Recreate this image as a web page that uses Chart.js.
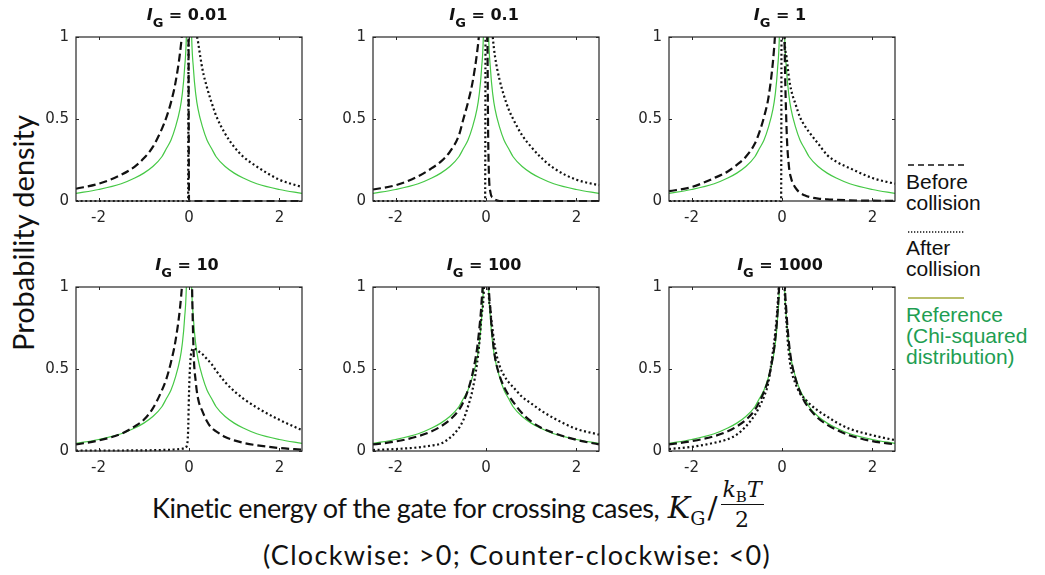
<!DOCTYPE html>
<html>
<head>
<meta charset="utf-8">
<script src="https://cdn.jsdelivr.net/npm/chart.js@4/dist/chart.umd.min.js"></script>
<style>
  html, body { margin:0; padding:0; background:#fff; }
  #wrap { position:relative; width:1045px; height:575px; overflow:hidden; background:#fff; }
  canvas.pc { position:absolute; }
  .ptitle { position:absolute; transform:translateX(-50%); font-family:"DejaVu Sans", sans-serif; font-weight:bold; font-size:16px; color:#111; white-space:nowrap; line-height:20px; }
  .ptitle sub { font-size:13px; vertical-align:-7px; line-height:0; }
  .ylab { position:absolute; left:22px; top:233px; transform:translate(-50%,-50%) rotate(-90deg); font-family:Lato, "Open Sans", sans-serif; font-size:29px; color:#111; white-space:nowrap; }
  .xlab1 { position:absolute; left:152px; top:476px; height:64px; line-height:64px; font-family:Lato, "Open Sans", sans-serif; font-size:27px; letter-spacing:-0.4px; color:#111; white-space:nowrap; }
  .xlab2 { position:absolute; left:517px; top:538px; transform:translateX(-50%); font-family:Lato, "Open Sans", sans-serif; font-size:27px; letter-spacing:1.3px; color:#111; white-space:nowrap; }
  .m { font-family:"DejaVu Serif","Liberation Serif", serif; font-size:30px; letter-spacing:0; margin-left:2px; }
  .m sub { font-size:19px; font-style:normal; vertical-align:-7px; line-height:0; }
  .slash { margin-left:2px; }
  .frac { display:inline-block; vertical-align:middle; text-align:center; font-size:22px; line-height:26px; margin-left:3px; position:relative; top:-5px; }
  .frac .num { display:block; border-bottom:1.4px solid #111; padding:0 2px 1px 2px; }
  .frac .num sub { font-size:15px; vertical-align:-5px; }
  .frac .den { display:block; font-style:normal; padding-top:2px; }
  .leg { position:absolute; left:906px; font-family:"Liberation Sans", Arial, sans-serif; font-size:21px; line-height:21px; color:#111; white-space:nowrap; }
  .leg.green { color:#1e9e52; }
  svg.ls { position:absolute; }
</style>
</head>
<body>
<div id="wrap">
  <div class="ylab">Probability density</div>
  <div class="xlab1">Kinetic energy of the gate for crossing cases, <span class="m"><i>K</i><sub>G</sub><span class="slash">/</span><span class="frac"><span class="num"><i>k</i><sub>B</sub><i>T</i></span><span class="den">2</span></span></span></div>
  <div class="xlab2">(Clockwise: &gt;0; Counter-clockwise: &lt;0)</div>

  <svg class="ls" style="left:906px;top:160px" width="60" height="10"><line x1="2" y1="5" x2="58" y2="5" stroke="#111" stroke-width="1.3" stroke-dasharray="6,4"/></svg>
  <div class="leg" style="top:171px">Before<br>collision</div>
  <svg class="ls" style="left:906px;top:227px" width="60" height="10"><line x1="2" y1="5" x2="58" y2="5" stroke="#111" stroke-width="1.3" stroke-dasharray="1.3,1.7"/></svg>
  <div class="leg" style="top:237px">After<br>collision</div>
  <svg class="ls" style="left:906px;top:293px" width="60" height="10"><line x1="2" y1="5" x2="58" y2="5" stroke="#b9bf6a" stroke-width="2"/></svg>
  <div class="leg green" style="top:304px">Reference<br>(Chi-squared<br>distribution)</div>
</div>
<script>
// ---- data ----
const xGrid = [-2.5,-2,-1.5,-1.2,-1,-0.8,-0.6,-0.5,-0.4,-0.3,-0.2,-0.15,-0.1,-0.05,-0.02,0,0.02,0.05,0.1,0.15,0.2,0.3,0.4,0.5,0.6,0.8,1,1.2,1.5,2,2.5];
const xTickValues = [-2, 0, 2];
const yTickValues = [0, 0.5, 1];
const panelLabels = ['0.01', '0.1', '1', '10', '100', '1000'];

const referenceY = [0.046,0.07,0.105,0.14,0.17,0.21,0.27,0.32,0.37,0.45,0.56,0.65,0.8,1.1,1.8,3,1.8,1.1,0.8,0.65,0.56,0.45,0.37,0.32,0.27,0.21,0.17,0.14,0.105,0.07,0.046];

const before001 = [0.075,0.105,0.16,0.21,0.26,0.33,0.44,0.51,0.6,0.72,0.9,1.03,1.2,1.6,2.2,0,0,0,0,0,0,0,0,0,0,0,0,0,0,0,0];
const after001  = [0,0,0,0,0,0,0,0,0,0,0,0,0,0,0,2.5,2.2,1.7,1.3,1.06,0.97,0.8,0.69,0.6,0.52,0.41,0.33,0.27,0.21,0.13,0.085];

const before01 = [0.07,0.096,0.15,0.2,0.24,0.3,0.4,0.5,0.6,0.72,0.9,1.03,1.25,1.7,2.2,2.5,1.6,0.35,0.05,0.02,0.008,0,0,0,0,0,0,0,0,0,0];
const after01  = [0,0,0,0,0,0,0,0,0,0,0,0,0,0,0,2.5,2.2,1.7,1.2,1.0,0.88,0.74,0.64,0.56,0.5,0.4,0.33,0.27,0.2,0.13,0.096];

const before1 = [0.06,0.085,0.14,0.18,0.22,0.27,0.35,0.42,0.51,0.63,0.85,1.03,1.3,1.8,2.3,2.5,2,1.1,0.45,0.22,0.14,0.08,0.05,0.035,0.025,0.015,0.01,0.007,0.004,0.002,0.001];
const after1  = [0,0,0,0,0,0,0,0,0,0,0,0,0,0,0,2.5,1.8,1.05,0.88,0.76,0.68,0.59,0.51,0.46,0.42,0.35,0.28,0.24,0.2,0.14,0.105];

const before10 = [0.04,0.064,0.105,0.15,0.19,0.26,0.37,0.44,0.54,0.67,0.87,1.03,1.3,1.8,2.3,2.5,2,1.3,0.62,0.42,0.32,0.24,0.18,0.14,0.12,0.085,0.065,0.05,0.035,0.018,0.008];
const after10  = [0.003,0.003,0.003,0.004,0.004,0.005,0.006,0.007,0.008,0.01,0.012,0.014,0.018,0.03,0.12,0.35,0.5,0.6,0.625,0.62,0.61,0.59,0.56,0.53,0.49,0.42,0.365,0.32,0.265,0.19,0.127];

const before100 = [0.04,0.058,0.09,0.12,0.15,0.19,0.25,0.3,0.37,0.47,0.62,0.74,0.9,1.2,1.8,2.5,1.9,1.15,0.85,0.68,0.57,0.46,0.39,0.34,0.3,0.23,0.18,0.145,0.11,0.068,0.04];
const after100  = [0.006,0.012,0.022,0.034,0.045,0.08,0.14,0.19,0.27,0.37,0.53,0.65,0.82,0.97,1.3,2,1.6,1.05,0.85,0.73,0.63,0.52,0.46,0.42,0.39,0.33,0.29,0.25,0.2,0.135,0.1];

const before1000 = [0.04,0.06,0.09,0.12,0.15,0.19,0.25,0.3,0.36,0.44,0.58,0.68,0.84,1.15,1.8,2.5,1.8,1.15,0.84,0.67,0.56,0.44,0.36,0.3,0.26,0.2,0.16,0.13,0.095,0.06,0.04];
const after1000  = [0.012,0.025,0.05,0.072,0.1,0.15,0.22,0.27,0.33,0.42,0.61,0.72,0.88,1.15,1.6,2.5,1.8,1.1,0.78,0.6,0.5,0.41,0.35,0.32,0.29,0.245,0.21,0.175,0.135,0.096,0.066];

const beforeSeries = [before001, before01, before1, before10, before100, before1000];
const afterSeries  = [after001, after01, after1, after10, after100, after1000];

// ---- layout ----
const colLeft = [76, 373, 669];
const rowTop = [35, 285];
const plotW = 226, plotH = 166;
const padL = 50, padT = 14, padR = 12, padB = 32;
const axisColor = '#262626';

const boxPlugin = {
  id: 'matlabBox',
  afterDatasetsDraw(chart) {
    const { ctx, chartArea: a, scales: { x, y } } = chart;
    ctx.save();
    ctx.strokeStyle = axisColor;
    ctx.lineWidth = 1.2;
    ctx.strokeRect(a.left, a.top, a.right - a.left, a.bottom - a.top);
    ctx.lineWidth = 1;
    const tl = 3;
    ctx.beginPath();
    xTickValues.forEach(v => {
      const px = Math.round(x.getPixelForValue(v)) + 0.5;
      ctx.moveTo(px, a.bottom); ctx.lineTo(px, a.bottom - tl);
      ctx.moveTo(px, a.top); ctx.lineTo(px, a.top + tl);
    });
    yTickValues.forEach(v => {
      const py = Math.round(y.getPixelForValue(v)) + 0.5;
      ctx.moveTo(a.left, py); ctx.lineTo(a.left + tl, py);
      ctx.moveTo(a.right, py); ctx.lineTo(a.right - tl, py);
    });
    ctx.stroke();
    ctx.restore();
  }
};

const wrap = document.getElementById('wrap');
const toPts = ys => xGrid.map((x, i) => ({ x: x, y: ys[i] }));
const tickFont = { family: 'DejaVu Sans', size: 15 };

panelLabels.forEach((lab, i) => {
  const L = colLeft[i % 3], T = rowTop[Math.floor(i / 3)];
  const cv = document.createElement('canvas');
  cv.className = 'pc';
  cv.style.left = (L - padL) + 'px';
  cv.style.top = (T - padT) + 'px';
  cv.width = plotW + padL + padR;
  cv.height = plotH + padT + padB;
  cv.style.width = cv.width + 'px';
  cv.style.height = cv.height + 'px';
  wrap.appendChild(cv);

  const t = document.createElement('div');
  t.className = 'ptitle';
  t.style.left = (L + plotW / 2 - 2) + 'px';
  t.style.top = (T - 30) + 'px';
  t.innerHTML = '<i>I</i><sub>G</sub> = ' + lab;
  wrap.appendChild(t);

  const common = { showLine: true, pointRadius: 0, pointHoverRadius: 0, fill: false, cubicInterpolationMode: 'monotone', clip: { left: 1, right: 1, top: 0, bottom: 2 } };
  new Chart(cv, {
    type: 'scatter',
    data: {
      datasets: [
        Object.assign({ label: 'Before collision', data: toPts(beforeSeries[i]), borderColor: '#111', borderWidth: 2.2, borderDash: [8, 4], order: 1 }, common),
        Object.assign({ label: 'After collision', data: toPts(afterSeries[i]), borderColor: '#111', borderWidth: 2.2, borderDash: [2, 2.6], order: 2 }, common),
        Object.assign({ label: 'Reference', data: toPts(referenceY), borderColor: '#45c845', borderWidth: 1.2, order: 3 }, common)
      ]
    },
    options: {
      responsive: false,
      animation: false,
      events: [],
      layout: { padding: { top: padT, right: padR, left: 0, bottom: 0 } },
      plugins: { legend: { display: false }, tooltip: { enabled: false }, title: { display: false } },
      scales: {
        x: {
          type: 'linear', min: -2.5, max: 2.5,
          grid: { display: false, drawTicks: false }, border: { display: false },
          afterBuildTicks: s => { s.ticks = xTickValues.map(v => ({ value: v })); },
          afterFit: s => { s.height = padB; },
          ticks: { padding: 8, color: axisColor, font: tickFont, maxRotation: 0, autoSkip: false, callback: v => String(v) }
        },
        y: {
          type: 'linear', min: 0, max: 1,
          grid: { display: false, drawTicks: false }, border: { display: false },
          afterBuildTicks: s => { s.ticks = yTickValues.map(v => ({ value: v })); },
          afterFit: s => { s.width = padL; },
          ticks: { padding: 7, color: axisColor, font: tickFont, autoSkip: false, callback: v => String(v) }
        }
      }
    },
    plugins: [boxPlugin]
  });
});
</script>
</body>
</html>
